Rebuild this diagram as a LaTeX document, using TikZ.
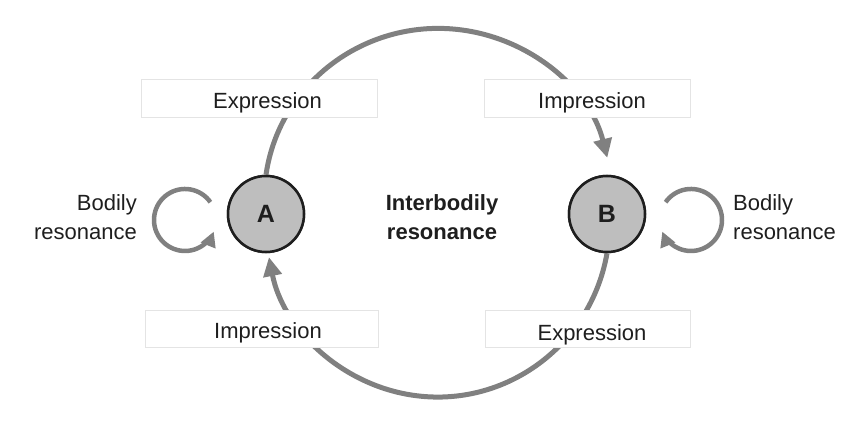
\documentclass[tikz,border=0pt]{standalone}
\usepackage{fontspec}
\setmainfont{Liberation Sans}
\usetikzlibrary{arrows.meta}
\definecolor{linegray}{RGB}{128,128,128}
\definecolor{nodefill}{RGB}{190,190,190}
\definecolor{nodeedge}{RGB}{30,30,30}
\definecolor{boxedge}{RGB}{228,228,228}
\definecolor{txt}{RGB}{30,30,30}
\tikzset{
  flow/.style={draw=linegray, line width=5pt},
  bigtip/.style={-{Triangle[length=19pt,width=18pt]}},
  smalltip/.style={-{Triangle[length=15pt,width=15pt]}},
  person/.style={circle, draw=nodeedge, fill=nodefill, line width=2.5pt,
    minimum size=76pt, inner sep=0pt, font=\fontsize{25}{28}\selectfont\bfseries, text=txt},
  labelbox/.style={draw=boxedge, fill=white, line width=1pt, inner sep=0pt},
  lbl/.style={font=\fontsize{22}{29}\selectfont, text=txt, inner sep=0pt},
}
\begin{document}
\begin{tikzpicture}[x=1pt,y=1pt]
\useasboundingbox (0,0) rectangle (868,429);
% persons (placed first for anchors, redrawn on top later)
\path (266,215) node[person] (A) {} (607,215) node[person] (B) {};
% big arcs
\draw[flow,bigtip] (A.north) arc[start angle=172, end angle=13.8, x radius=174, y radius=170];
\draw[flow,bigtip] (B.south) arc[start angle=-10, end angle=-168.7, x radius=172, y radius=174];
% self loops
\coordinate (la) at (210.4,226.8);
\coordinate (lb) at (665.6,226.8);
\draw[flow,line width=4.5pt,smalltip] (la) arc[start angle=35, end angle=338, radius=31];
\draw[flow,line width=4.5pt,smalltip] (lb) arc[start angle=145, end angle=-158, radius=31];
% label boxes
\node[labelbox, minimum width=236pt, minimum height=38pt] (bTL) at (259,330) {};
\node[labelbox, minimum width=206pt, minimum height=38pt] (bTR) at (587,330) {};
\node[labelbox, minimum width=233pt, minimum height=37pt] (bBL) at (261.5,100.5) {};
\node[labelbox, minimum width=205pt, minimum height=37pt] (bBR) at (587.5,100.5) {};
\node[lbl] (tTL) at (267.5,326) {Expression};
\node[lbl] (tTR) at (592,326) {Impression};
\node[lbl] (tBL) at (268,96) {Impression};
\node[lbl] (tBR) at (592,94) {Expression};
% persons on top
\node[person] (A2) at (A) {A};
\node[person] (B2) at (B) {B};
% side texts
\node[lbl, align=right, anchor=east] (bl) at (137,212) {Bodily\\resonance};
\node[lbl, align=left, anchor=west] (br) at (733,212) {Bodily\\resonance};
\node[lbl, align=center, font=\fontsize{22}{29}\selectfont\bfseries] (ir) at (442,212) {Interbodily\\resonance};
\end{tikzpicture}
\end{document}
